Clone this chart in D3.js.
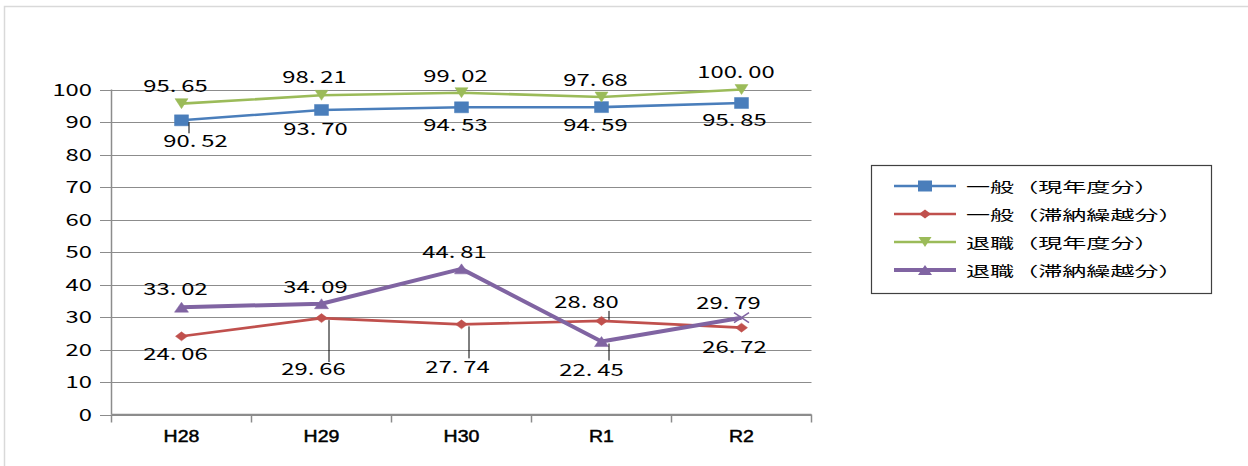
<!DOCTYPE html>
<html><head><meta charset="utf-8">
<script src="https://cdn.jsdelivr.net/npm/d3@7"></script>
<style>
html,body{margin:0;padding:0;background:#fff;}
svg{display:block;}
.num{font-family:"Noto Sans CJK JP","Noto Sans",sans-serif;font-size:17px;fill:#000;}
.cat{font-family:"Liberation Sans",Arial,sans-serif;font-size:16px;fill:#000;stroke:#000;stroke-width:0.45;}
.leg{font-family:"Noto Sans CJK JP",sans-serif;font-size:14px;fill:#000;}
</style></head>
<body>
<svg id="c" width="1248" height="466"></svg>
<script>
// ---- data ----
const categories = ["H28", "H29", "H30", "R1", "R2"];
const seriesNames = ["一般（現年度分）", "一般（滞納繰越分）", "退職（現年度分）", "退職（滞納繰越分）"];
const ippanGennen = [90.52, 93.70, 94.53, 94.59, 95.85];
const ippanTainou = [24.06, 29.66, 27.74, 28.80, 26.72];
const taishokuGennen = [95.65, 98.21, 99.02, 97.68, 100.00];
const taishokuTainou = [33.02, 34.09, 44.81, 22.45, 29.79];
const yTicks = [0, 10, 20, 30, 40, 50, 60, 70, 80, 90, 100];

// ---- styling / label placement (not data) ----
const styles = [
  {color:"#4A7EBB", width:2.6, marker:"square"},
  {color:"#C0504D", width:2.6, marker:"diamond"},
  {color:"#9BBB59", width:2.6, marker:"tridown"},
  {color:"#8064A2", width:4,   marker:"triup"}
];
// label offsets: [dx, dy(baseline), leaderFromDy, leaderToDy, leaderDx]
const labelPos = [
  [[14,27,2,13,7],[-6,25.5],[-6,24],[-6,24],[-7,23.5]],
  [[-6,24],[-8,56.5,2,44,7],[-4,49,2,34,7],[-15,-12.5,-1,-10,7],[-7,25]],
  [[-6,-12],[-7,-12],[-6,-11],[-6,-11.5],[-5.5,-12]],
  [[-6,-12],[-6,-11],[-7,-11],[-10,34,2,19,7],[-13,-9]]
];
const SX = 1.4;

const svg = d3.select("#c");
const allSeries = [ippanGennen, ippanTainou, taishokuGennen, taishokuTainou];

// outer frame
svg.append("rect").attr("x",4.5).attr("y",6.5).attr("width",1260).attr("height",470)
  .attr("fill","none").attr("stroke","#d9d9d9").attr("stroke-width",1.5);

const x = d3.scaleBand().domain(categories).range([111.5, 811.5]);
const y = d3.scaleLinear().domain([0,100]).range([414.5, 89.5]);
const cx = c => x(c) + x.bandwidth()/2;

// gridlines
svg.append("g").selectAll("line").data(yTicks).join("line")
  .attr("x1",100).attr("x2",811.5)
  .attr("y1",d=>Math.round(y(d))+0.5).attr("y2",d=>Math.round(y(d))+0.5)
  .attr("stroke","#8c8c8c").attr("stroke-width",1.2);

// y axis line
svg.append("line").attr("x1",111.5).attr("x2",111.5).attr("y1",y(100)).attr("y2",y(0))
  .attr("stroke","#8c8c8c").attr("stroke-width",1.5);
// x axis line + ticks
svg.append("line").attr("x1",111.5).attr("x2",811.5).attr("y1",y(0)).attr("y2",y(0))
  .attr("stroke","#8c8c8c").attr("stroke-width",1.5);
const tickXs = categories.map(c=>x(c)).concat([x(categories[categories.length-1])+x.bandwidth()]);
svg.append("g").selectAll("line").data(tickXs).join("line")
  .attr("x1",d=>d).attr("x2",d=>d).attr("y1",y(0)).attr("y2",y(0)+8)
  .attr("stroke","#8c8c8c").attr("stroke-width",1.5);

// y tick labels
svg.append("g").selectAll("text").data(yTicks).join("text")
  .attr("class","num").attr("text-anchor","end")
  .attr("transform",d=>`translate(92,${y(d)+6}) scale(${SX},1)`)
  .text(d=>d);

// x labels
svg.append("g").selectAll("text").data(categories).join("text")
  .attr("class","cat").attr("text-anchor","middle")
  .attr("transform",d=>`translate(${cx(d)},442) scale(1.22,1)`)
  .text(d=>d);

function markerPath(type, w, h){
  const a=w/2, b=h/2;
  if(type==="square") return `M${-a},${-b}H${a}V${b}H${-a}Z`;
  if(type==="diamond") return `M0,${-b}L${a},0L0,${b}L${-a},0Z`;
  if(type==="tridown") return `M${-a},${-b}L${a},${-b}L0,${b}Z`;
  if(type==="triup") return `M${-a},${b}L${a},${b}L0,${-b}Z`;
  if(type==="x") return `M${-a},${-b}L${a},${b}M${-a},${b}L${a},${-b}`;
}
const mSize = {square:[14,11], diamond:[12,9], tridown:[13,10], triup:[14,10]};

const line = d3.line().x((d,i)=>cx(categories[i])).y(d=>y(d));

allSeries.forEach((vals, si)=>{
  const st = styles[si];
  const g = svg.append("g");
  g.append("path").attr("d", line(vals)).attr("fill","none")
    .attr("stroke", st.color).attr("stroke-width", st.width).attr("stroke-linejoin","round");
  vals.forEach((v,i)=>{
    let type = st.marker;
    if(si===3 && i===vals.length-1) type = "x";
    const sz = type==="x" ? [15,10] : mSize[type];
    const p = g.append("path").attr("d", markerPath(type, sz[0], sz[1]))
      .attr("transform",`translate(${cx(categories[i])},${y(v)})`);
    if(type==="x") p.attr("fill","none").attr("stroke",st.color).attr("stroke-width",1.6);
    else p.attr("fill",st.color).attr("stroke",st.color).attr("stroke-width",0.5);
  });
});

// data labels
allSeries.forEach((vals, si)=>{
  const g = svg.append("g");
  vals.forEach((v,i)=>{
    const lp = labelPos[si][i];
    const px = cx(categories[i]), py = y(v);
    if(lp.length>2){
      g.append("line").attr("x1",px+lp[4]+0.5).attr("x2",px+lp[4]+0.5)
        .attr("y1",py+lp[2]).attr("y2",py+lp[3]).attr("stroke","#000").attr("stroke-width",1);
    }
    const parts = v.toFixed(2).split(".");
    const t = g.append("text").attr("class","num").attr("text-anchor","middle")
      .attr("transform",`translate(${px+lp[0]},${py+lp[1]}) scale(${SX},1)`);
    t.append("tspan").text(parts[0] + ".");
    t.append("tspan").attr("dx",3.5).text(parts[1]);
  });
});

// legend
const lg = svg.append("g");
lg.append("rect").attr("x",871.5).attr("y",165.5).attr("width",340).attr("height",128)
  .attr("fill","#fff").attr("stroke","#404040").attr("stroke-width",1.2);
seriesNames.forEach((name, si)=>{
  const st = styles[si];
  const ry = 186 + si*28;
  lg.append("line").attr("x1",894).attr("x2",956).attr("y1",ry).attr("y2",ry)
    .attr("stroke",st.color).attr("stroke-width",st.width);
  const sz = mSize[st.marker];
  lg.append("path").attr("d",markerPath(st.marker, sz[0], sz[1]))
    .attr("transform",`translate(925,${ry})`).attr("fill",st.color);
  lg.append("text").attr("class","leg")
    .attr("transform",`translate(966,${ry+6}) scale(1.72,1)`)
    .text(name);
});
</script>
</body></html>
